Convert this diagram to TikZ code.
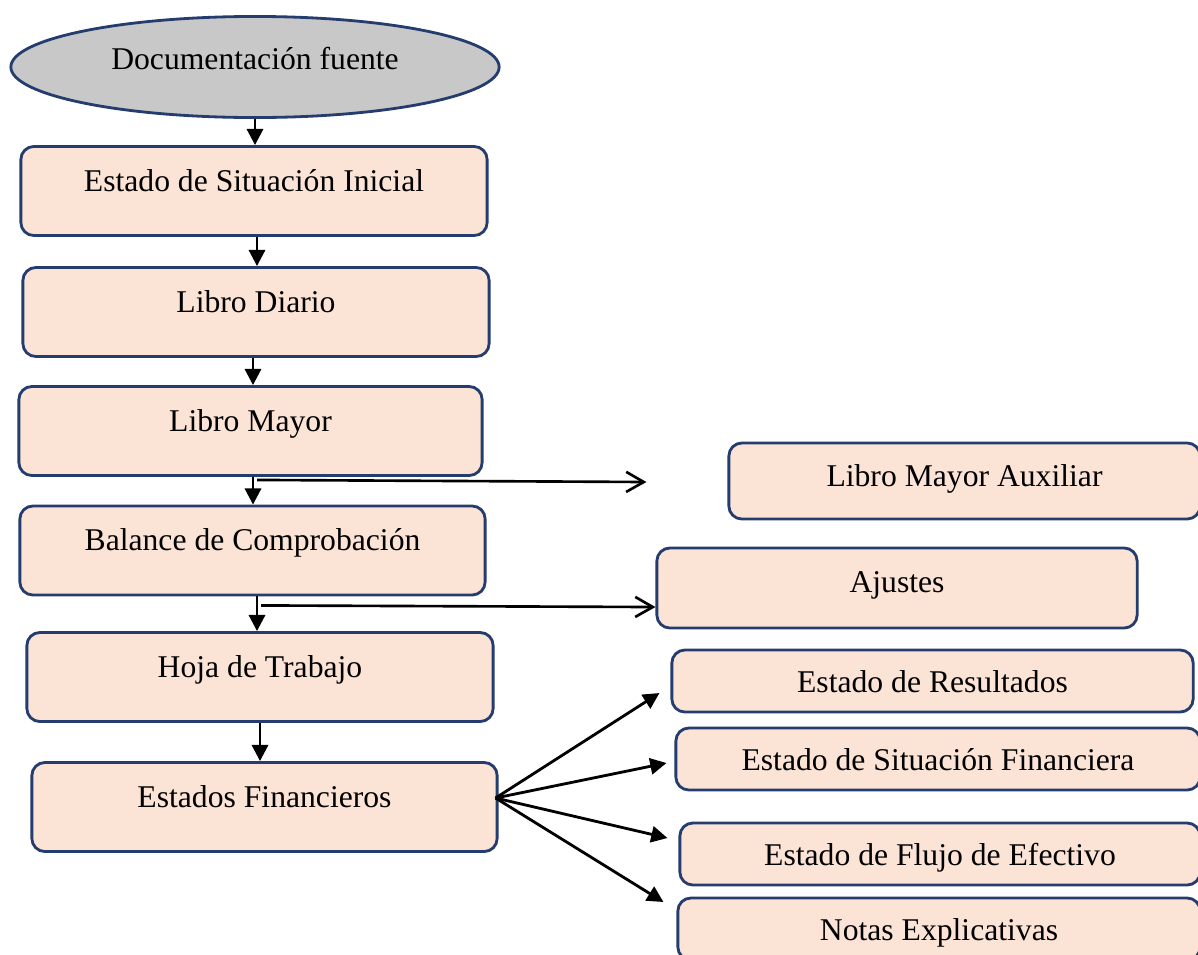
\documentclass[tikz,border=0pt]{standalone}
\usepackage{fontspec}
\setmainfont{Liberation Serif}
\usetikzlibrary{shapes.geometric,arrows.meta}

\definecolor{boxfill}{RGB}{251,227,214}
\definecolor{boxline}{RGB}{36,60,110}
\definecolor{ovalfill}{RGB}{200,200,200}

\tikzset{
  oval/.style={ellipse, draw=boxline, fill=ovalfill, line width=0.8pt, inner sep=0pt,
    minimum width=4.88cm, minimum height=1.01cm, text height=7pt, text depth=5.3pt,
    font=\fontsize{9}{11}\selectfont},
  lbox/.style={draw=boxline, fill=boxfill, line width=0.8pt, rounded corners=0.13cm, inner sep=0pt,
    minimum height=0.89cm, text height=7pt, text depth=7pt, font=\fontsize{9}{11}\selectfont},
  rbox/.style={draw=boxline, fill=boxfill, line width=0.8pt, rounded corners=0.13cm, inner sep=0pt,
    minimum height=0.62cm, text height=6.3pt, text depth=0pt, font=\fontsize{9}{11}\selectfont},
  arr/.style={-{Triangle[length=4.6pt,width=4.6pt]}, line width=0.8pt},
  oarr/.style={-{Straight Barb[length=5pt,width=5.7pt]}, line width=0.75pt},
}

\begin{document}
\begin{tikzpicture}[x=0.01cm, y=-0.01cm]

\useasboundingbox (0,0) rectangle (1198,954);

% main column
\node[oval] (doc) at (255,67) {Documentación fuente};
\node[lbox, minimum width=4.66cm] (esi) at (254,191) {Estado de Situación Inicial};
\node[lbox, minimum width=4.66cm] (ld) at (256,312) {Libro Diario};
\node[lbox, minimum width=4.63cm] (lm) at (250.5,431) {Libro Mayor};
\node[lbox, minimum width=4.65cm] (bc) at (252.5,550.5) {Balance de Comprobación};
\node[lbox, minimum width=4.66cm] (ht) at (260,677) {Hoja de Trabajo};
\node[lbox, minimum width=4.65cm] (ef) at (264.5,807) {Estados Financieros};

% side boxes
\node[rbox, minimum width=4.71cm, minimum height=0.76cm, text depth=2.9pt] (lma) at (964.5,481) {Libro Mayor Auxiliar};
\node[rbox, minimum width=4.80cm, minimum height=0.80cm, text depth=3.5pt] (aj) at (897,588) {Ajustes};
\node[rbox, minimum width=5.21cm] (er) at (932.5,681) {Estado de Resultados};
\node[rbox, minimum width=5.24cm] (esf) at (938,759) {Estado de Situación Financiera};
\node[rbox, minimum width=5.20cm] (efe) at (940,854) {Estado de Flujo de Efectivo};
\node[rbox, minimum width=5.22cm] (ne) at (939,929) {Notas Explicativas};

% arrows down
\draw[arr] (doc.south) -- (doc.south |- esi.north);
\draw[arr] ([xshift=0.03cm]esi.south) -- ([xshift=0.03cm]esi.south |- ld.north);
\draw[arr] ([xshift=-0.03cm]ld.south) -- ([xshift=-0.03cm]ld.south |- lm.north);
\draw[arr] ([xshift=0.025cm]lm.south) -- ([xshift=0.025cm]lm.south |- bc.north);
\draw[arr] ([xshift=0.045cm]bc.south) -- ([xshift=0.045cm]bc.south |- ht.north);
\draw[arr] (ht.south) -- (ht.south |- ef.north);

% side arrows
\draw[oarr] ([xshift=0.065cm,yshift=-0.03cm]lm.south) -- ([xshift=-0.81cm,yshift=-0.01cm]lma.west);
\draw[oarr] ([xshift=0.085cm,yshift=-0.09cm]bc.south) -- ([yshift=-0.19cm]aj.west);

% statements
\coordinate (fan) at ([xshift=-0.03cm,yshift=0.09cm]ef.east);
\draw[arr] (fan) -- ([xshift=-0.11cm,yshift=-0.12cm]er.west);
\draw[arr] (fan) -- ([xshift=-0.08cm,yshift=-0.04cm]esf.west);
\draw[arr] (fan) -- ([xshift=-0.11cm,yshift=0.16cm]efe.west);
\draw[arr] (fan) -- ([xshift=-0.13cm,yshift=0.27cm]ne.west);

\end{tikzpicture}
\end{document}
